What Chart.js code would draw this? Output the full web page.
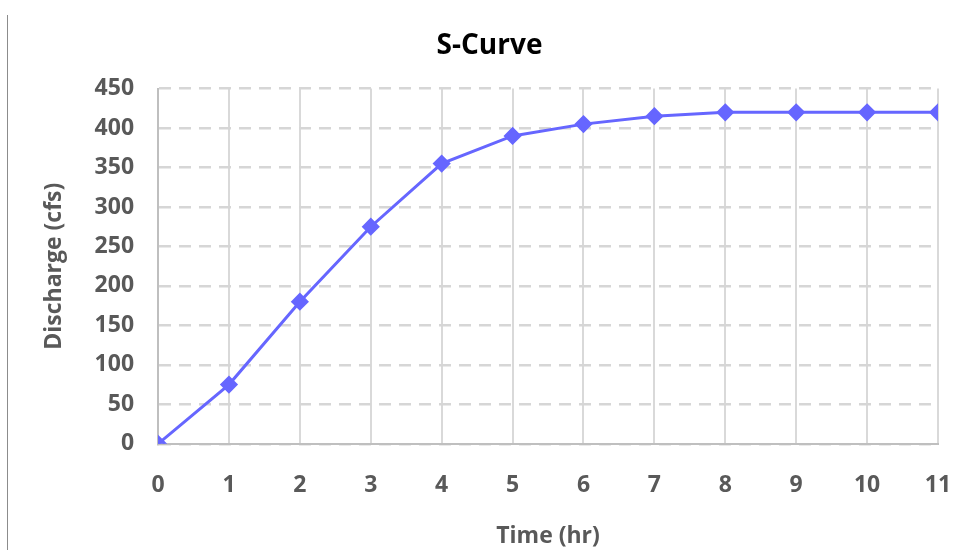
<!DOCTYPE html>
<html>
<head>
<meta charset="utf-8">
<script src="https://cdn.jsdelivr.net/npm/chart.js@4"></script>
<style>
  body { margin: 0; background: #fff; }
  #wrap { position: relative; width: 968px; height: 550px; }
  #edge { position: absolute; left: 7px; top: 15px; width: 1px; height: 535px; background: #8c8c8c; }
  #cv { position: absolute; left: 0; top: 0; }
</style>
</head>
<body>
<div id="wrap">
  <div id="edge"></div>
  <canvas id="cv" width="968" height="550"></canvas>
</div>
<script>
// time (hr) and discharge (cfs)
const timeHr = [0, 1, 2, 3, 4, 5, 6, 7, 8, 9, 10, 11];
const dischargeCfs = [0, 75, 180, 275, 355, 390, 405, 415, 420, 420, 420, 420];
const yTicks = [0, 50, 100, 150, 200, 250, 300, 350, 400, 450];

const FONT = '"Open Sans", Lato, sans-serif';
const GRAY = '#595959';

const points = timeHr.map((t, i) => ({ x: t, y: dischargeCfs[i] }));

new Chart(document.getElementById('cv').getContext('2d'), {
  type: 'line',
  data: {
    datasets: [{
      label: 'S-Curve',
      data: points,
      borderColor: '#6666ff',
      backgroundColor: '#6666ff',
      borderWidth: 3,
      pointStyle: 'rectRot',
      pointRadius: 7,
      pointHoverRadius: 7,
      tension: 0
    }]
  },
  options: {
    responsive: false,
    animation: false,
    layout: { padding: { left: 41, right: 30, top: 29, bottom: 0 } },
    plugins: {
      legend: { display: false },
      tooltip: { enabled: false },
      title: {
        display: true,
        text: 'S-Curve',
        color: '#000',
        font: { family: FONT, size: 28, weight: 'bold' },
        padding: { top: 0, bottom: 26 }
      }
    },
    scales: {
      x: {
        type: 'linear',
        min: 0,
        max: 11,
        ticks: {
          stepSize: 1,
          color: GRAY,
          font: { family: FONT, size: 23, weight: 'bold' },
          padding: 0
        },
        // invisible tick marks make the gap below the axis (tick padding would also widen the right side)
        grid: { color: '#d9d9d9', lineWidth: 2, drawTicks: true, tickLength: 28, tickColor: 'rgba(0,0,0,0)' },
        border: { color: '#bfbfbf', width: 2 },
        title: {
          display: true,
          text: 'Time (hr)',
          color: GRAY,
          font: { family: FONT, size: 23, weight: 'bold' },
          padding: { top: 23, bottom: 0 }
        }
      },
      y: {
        min: 0,
        max: 450,
        afterBuildTicks: axis => { axis.ticks = yTicks.map(v => ({ value: v })); },
        ticks: {
          color: GRAY,
          font: { family: FONT, size: 23, weight: 'bold' },
          padding: 24
        },
        grid: { color: '#d6d6d6', lineWidth: 2.5, drawTicks: false },
        border: { color: '#bfbfbf', width: 2, dash: [12, 8] },
        title: {
          display: true,
          text: 'Discharge (cfs)',
          color: GRAY,
          font: { family: FONT, size: 23, weight: 'bold' },
          padding: { top: 0, bottom: 2 }
        }
      }
    }
  }
});
</script>
</body>
</html>
